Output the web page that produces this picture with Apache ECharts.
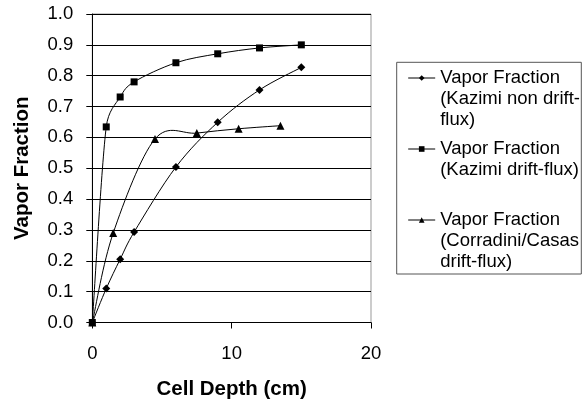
<!DOCTYPE html>
<html>
<head>
<meta charset="utf-8">
<script src="https://cdn.jsdelivr.net/npm/echarts@6/dist/echarts.min.js"></script>
<style>
html,body{margin:0;padding:0;background:#fff;}
#chart{width:582px;height:406px;}
</style>
</head>
<body>
<div id="chart"></div>
<script>
// ---- data ----
const nonDriftX = [0, 1, 2, 3, 6, 9, 12, 15];
const nonDriftY = [0, 0.11, 0.205, 0.293, 0.504, 0.649, 0.754, 0.827];
const driftX = [0, 1, 2, 3, 6, 9, 12, 15];
const driftY = [0, 0.634, 0.731, 0.78, 0.842, 0.871, 0.89, 0.9];
const corrX = [0, 1.5, 4.5, 7.5, 10.5, 13.5];
const corrY = [0, 0.29, 0.595, 0.614, 0.628, 0.638];
const seriesNames = [
  'Vapor Fraction (Kazimi non drift-flux)',
  'Vapor Fraction (Kazimi drift-flux)',
  'Vapor Fraction (Corradini/Casas drift-flux)'
];
const legendLines = [
  ['Vapor Fraction', '(Kazimi non drift-', 'flux)'],
  ['Vapor Fraction', '(Kazimi drift-flux)'],
  ['Vapor Fraction', '(Corradini/Casas', 'drift-flux)']
];
const xTitle = 'Cell Depth (cm)';
const yTitle = 'Vapor Fraction';

const zip = (xs, ys) => xs.map((x, i) => [x, ys[i]]);
const FONT = "'Liberation Sans', Arial, sans-serif";

function legendText(name) {
  const lines = legendLines[seriesNames.indexOf(name)];
  const pad = [];
  for (let i = 0; i < lines.length - 1; i++) pad.push(' ');
  return pad.concat(lines).join('\n');
}

// Excel-like smoothed curve (Catmull-Rom bezier, control length limited) through the axis scales
function smoothCurve(xs, ys) {
  return {
    type: 'custom',
    silent: true,
    z: 1,
    data: [[xs[0], ys[0]]],
    renderItem: function (params, api) {
      const p = xs.map((x, i) => api.coord([x, ys[i]]));
      const n = p.length;
      const P = i => p[Math.max(0, Math.min(n - 1, i))];
      const dist = (a, b) => Math.hypot(b[0] - a[0], b[1] - a[1]);
      // control offset from point b, toward/away along tangent (c - a)/6, limited by segment length
      function ctrl(a, b, c, segLen, sign) {
        let tx = (c[0] - a[0]) / 6, ty = (c[1] - a[1]) / 6;
        const len = Math.hypot(tx, ty);
        const lim = 0.5 * segLen;
        if (len > lim && len > 0) { tx *= lim / len; ty *= lim / len; }
        return [b[0] + sign * tx, b[1] + sign * ty];
      }
      const children = [];
      for (let i = 0; i < n - 1; i++) {
        const a = P(i - 1), b = P(i), c = P(i + 1), d = P(i + 2);
        const L = dist(b, c);
        const c1 = ctrl(a, b, c, L, 1);
        const c2 = ctrl(b, c, d, L, -1);
        children.push({
          type: 'bezierCurve',
          shape: {
            x1: b[0], y1: b[1], x2: c[0], y2: c[1],
            cpx1: c1[0], cpy1: c1[1], cpx2: c2[0], cpy2: c2[1]
          },
          style: { stroke: '#000', fill: null, lineWidth: 1 }
        });
      }
      return { type: 'group', children: children };
    }
  };
}

const chart = echarts.init(document.getElementById('chart'));
const hiddenLine = { color: '#000', width: 1, opacity: 0 };
const option = {
  animation: false,
  backgroundColor: '#fff',
  textStyle: { fontFamily: FONT, color: '#000' },
  grid: {
    left: 92.3, right: 211, top: 14, bottom: 83.5,
    containLabel: false, outerBoundsMode: 'none',
    show: true, borderColor: '#999', borderWidth: 1, backgroundColor: 'transparent'
  },
  legend: {
    orient: 'vertical',
    left: 402.7,
    top: 20.5,
    itemGap: -13,
    itemWidth: 27,
    itemHeight: 7,
    selectedMode: false,
    formatter: legendText,
    lineStyle: { color: '#000', width: 1, opacity: 1 },
    itemStyle: { color: '#000', opacity: 1 },
    textStyle: { fontFamily: FONT, fontSize: 18.5, lineHeight: 21, color: '#000' },
    data: seriesNames
  },
  xAxis: {
    type: 'value', min: 0, max: 20, interval: 10,
    name: xTitle, nameLocation: 'middle', nameGap: 56,
    nameTextStyle: { fontFamily: FONT, fontSize: 20.5, fontWeight: 'bold', color: '#000' },
    axisLine: { show: true, onZero: false, lineStyle: { color: '#000', width: 1 } },
    axisTick: { show: true, inside: false, length: 6, lineStyle: { color: '#000' } },
    axisLabel: { fontFamily: FONT, fontSize: 18.5, color: '#000', margin: 22 },
    splitLine: { show: false }
  },
  yAxis: {
    type: 'value', min: 0, max: 1, interval: 0.1,
    name: yTitle, nameLocation: 'middle', nameGap: 59, nameRotate: 90,
    nameTextStyle: { fontFamily: FONT, fontSize: 20.5, fontWeight: 'bold', color: '#000' },
    axisLine: { show: true, onZero: false, lineStyle: { color: '#000', width: 1 } },
    axisTick: { show: true, inside: false, length: 6, lineStyle: { color: '#000' } },
    axisLabel: { fontFamily: FONT, fontSize: 18.5, color: '#000', margin: 19,
      formatter: v => v.toFixed(1) },
    splitLine: { show: true, lineStyle: { color: '#000', width: 1 } }
  },
  graphic: [{
    type: 'rect',
    shape: { x: 396.7, y: 62.3, width: 184.6, height: 211.7 },
    style: { fill: 'none', stroke: '#555', lineWidth: 1 },
    z: 100
  }],
  series: [
    smoothCurve(nonDriftX, nonDriftY),
    smoothCurve(driftX, driftY),
    smoothCurve(corrX, corrY),
    {
      name: seriesNames[0], type: 'line', z: 3,
      data: zip(nonDriftX, nonDriftY),
      symbol: 'diamond', symbolSize: 8,
      itemStyle: { color: '#000' }, lineStyle: hiddenLine
    },
    {
      name: seriesNames[1], type: 'line', z: 3,
      data: zip(driftX, driftY),
      symbol: 'rect', symbolSize: 7,
      itemStyle: { color: '#000' }, lineStyle: hiddenLine
    },
    {
      name: seriesNames[2], type: 'line', z: 3,
      data: zip(corrX, corrY),
      symbol: 'triangle', symbolSize: 8,
      itemStyle: { color: '#000' }, lineStyle: hiddenLine
    }
  ]
};
chart.setOption(option);
</script>
</body>
</html>
